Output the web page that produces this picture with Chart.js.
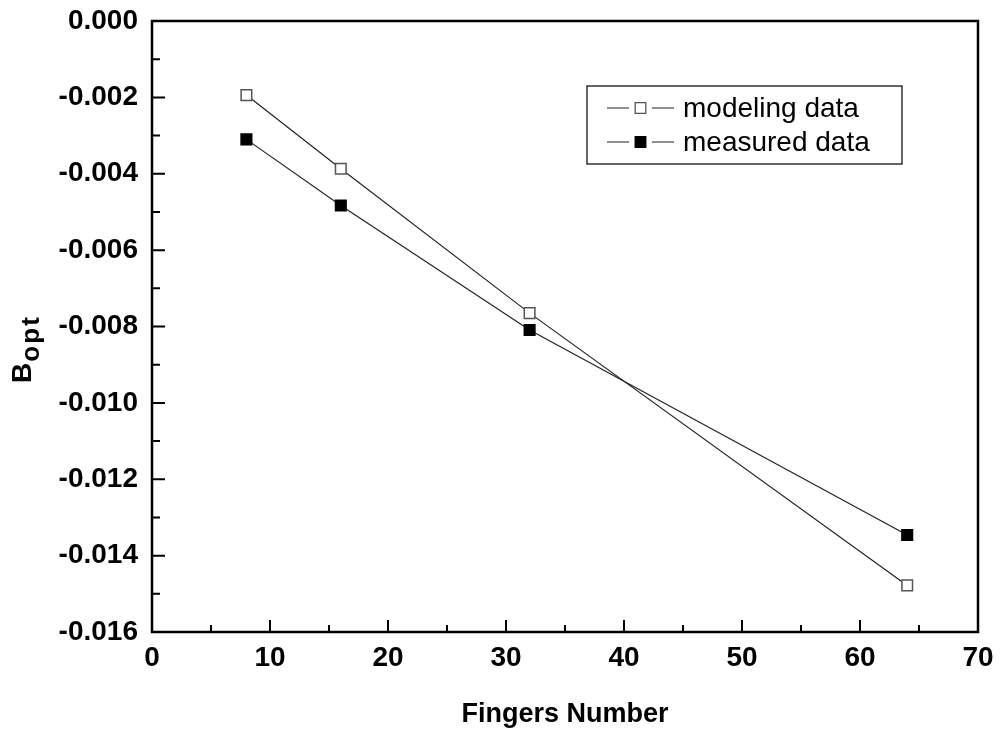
<!DOCTYPE html>
<html lang="en">
<head>
    <meta charset="UTF-8">
    <title>Bopt vs Fingers Number</title>
    <script src="https://cdn.jsdelivr.net/npm/chart.js@4.4.1/dist/chart.umd.min.js"></script>
    <style>
        body { margin: 0; background: #fff; }
        #wrap { width: 1000px; height: 731px; }
    </style>
</head>
<body>
    <div id="wrap">
        <canvas id="boptChart" width="1000" height="731"></canvas>
    </div>

    <script>
        // data
        const fingers = [8, 16, 32, 64];
        const modelingData = [-0.00194, -0.00387, -0.00765, -0.01478];
        const measuredData = [-0.00310, -0.00483, -0.00809, -0.01346];
        const seriesNames = ['modeling data', 'measured data'];
        const xTitle = 'Fingers Number';

        const FONT = '"Liberation Sans", Arial, sans-serif';

        const toPoints = (xs, ys) => xs.map((x, i) => ({ x, y: ys[i] }));

        // frame + inward ticks (major and minor), drawn from the scales
        const frameTicks = {
            id: 'frameTicks',
            afterDatasetsDraw(chart) {
                const { ctx, chartArea: a, scales: { x, y } } = chart;
                ctx.save();
                ctx.strokeStyle = '#000';
                ctx.lineWidth = 2.5;
                ctx.strokeRect(a.left, a.top, a.right - a.left, a.bottom - a.top);

                ctx.lineWidth = 2;
                ctx.beginPath();
                const yt = y.ticks.map(t => t.value);
                yt.forEach((v, i) => {
                    const py = y.getPixelForValue(v);
                    ctx.moveTo(a.left, py); ctx.lineTo(a.left + 13, py);
                    if (i < yt.length - 1) {
                        const pm = y.getPixelForValue((v + yt[i + 1]) / 2);
                        ctx.moveTo(a.left, pm); ctx.lineTo(a.left + 8, pm);
                    }
                });
                const xt = x.ticks.map(t => t.value);
                xt.forEach((v, i) => {
                    const px = x.getPixelForValue(v);
                    ctx.moveTo(px, a.bottom); ctx.lineTo(px, a.bottom - 12);
                    if (i < xt.length - 1) {
                        const pm = x.getPixelForValue((v + xt[i + 1]) / 2);
                        ctx.moveTo(pm, a.bottom); ctx.lineTo(pm, a.bottom - 7);
                    }
                });
                ctx.stroke();
                ctx.restore();
            }
        };

        // legend box with line-marker-line samples
        const boxLegend = {
            id: 'boxLegend',
            afterDraw(chart) {
                const ctx = chart.ctx;
                ctx.save();
                ctx.strokeStyle = '#000';
                ctx.lineWidth = 1.2;
                ctx.strokeRect(587, 86, 315, 78);
                ctx.font = '28px ' + FONT;
                ctx.textBaseline = 'middle';
                ctx.fillStyle = '#000';
                chart.data.datasets.forEach((ds, i) => {
                    const cy = 108 + i * 34;
                    ctx.strokeStyle = '#222';
                    ctx.lineWidth = 1.2;
                    ctx.beginPath();
                    ctx.moveTo(607, cy); ctx.lineTo(629, cy);
                    ctx.moveTo(652, cy); ctx.lineTo(674, cy);
                    ctx.stroke();
                    ctx.fillStyle = ds.pointBackgroundColor;
                    ctx.strokeStyle = ds.pointBorderColor;
                    ctx.lineWidth = 1.3;
                    Chart.helpers.drawPoint(ctx, { pointStyle: 'rect', radius: 7.5, borderWidth: 1.3 }, 640.5, cy);
                    ctx.fillStyle = '#000';
                    ctx.fillText(ds.label, 683, cy + 1);
                });
                ctx.restore();
            }
        };

        // y title with subscript: B_opt
        const yTitle = {
            id: 'yTitle',
            afterDraw(chart) {
                const ctx = chart.ctx;
                ctx.save();
                ctx.translate(31, 383);
                ctx.rotate(-Math.PI / 2);
                ctx.fillStyle = '#000';
                ctx.textBaseline = 'alphabetic';
                ctx.font = 'bold 28px ' + FONT;
                ctx.fillText('B', 0, 0);
                const bw = ctx.measureText('B').width;
                ctx.font = 'bold 26px ' + FONT;
                ctx.fillText('o', bw + 1, 8);
                ctx.fillText('p', bw + 19, 8);
                ctx.fillText('t', bw + 37, 8);
                ctx.restore();
            }
        };

        new Chart(document.getElementById('boptChart'), {
            type: 'line',
            data: {
                datasets: [{
                    label: seriesNames[0],
                    data: toPoints(fingers, modelingData),
                    borderColor: '#222',
                    borderWidth: 1.2,
                    pointStyle: 'rect',
                    pointRadius: 7.5,
                    pointBorderWidth: 1.5,
                    pointBackgroundColor: '#fff',
                    pointBorderColor: '#555',
                    tension: 0
                }, {
                    label: seriesNames[1],
                    data: toPoints(fingers, measuredData),
                    borderColor: '#222',
                    borderWidth: 1.2,
                    pointStyle: 'rect',
                    pointRadius: 7.5,
                    pointBorderWidth: 1.5,
                    pointBackgroundColor: '#000',
                    pointBorderColor: '#000',
                    tension: 0
                }]
            },
            options: {
                responsive: false,
                devicePixelRatio: 1,
                animation: false,
                layout: { padding: { top: 21, right: 22, left: 0, bottom: 0 } },
                plugins: {
                    legend: { display: false },
                    tooltip: { enabled: false }
                },
                scales: {
                    x: {
                        type: 'linear',
                        min: 0,
                        max: 70,
                        ticks: {
                            stepSize: 10,
                            padding: 9,
                            color: '#000',
                            font: { family: FONT, size: 28, weight: 'bold' }
                        },
                        grid: { display: false, drawTicks: false },
                        border: { display: false },
                        title: {
                            display: true,
                            text: xTitle,
                            color: '#000',
                            padding: { top: 16, bottom: 0 },
                            font: { family: FONT, size: 27, weight: 'bold' }
                        },
                        afterFit: s => {
                            s.height = 99;
                            s.paddingLeft = 0;
                            s.paddingRight = 0;
                        }
                    },
                    y: {
                        min: -0.016,
                        max: 0,
                        ticks: {
                            stepSize: 0.002,
                            padding: 14,
                            color: '#000',
                            font: { family: FONT, size: 28, weight: 'bold' },
                            callback: v => (Math.abs(v) < 1e-9 ? 0 : v).toFixed(3)
                        },
                        grid: { display: false, drawTicks: false },
                        border: { display: false },
                        afterFit: s => {
                            s.width = 152;
                            s.paddingTop = 0;
                            s.paddingBottom = 0;
                        }
                    }
                }
            },
            plugins: [frameTicks, boxLegend, yTitle]
        });
    </script>
</body>
</html>
